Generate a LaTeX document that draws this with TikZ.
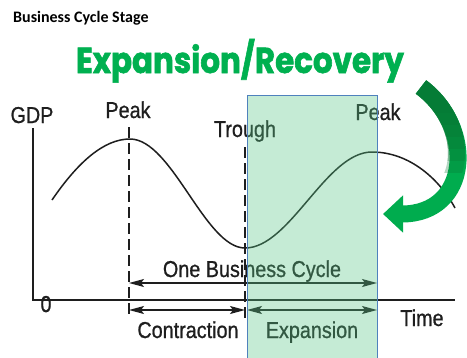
\documentclass[tikz,border=0pt]{standalone}
\usepackage{fontspec}
\setmainfont{Liberation Sans}
\newfontfamily\lblfont[FakeStretch=0.86,FakeBold=0.8]{Liberation Sans}
\newfontfamily\headfont{Carlito}
\newfontfamily\bannerfont[FakeStretch=0.86,FakeBold=1.6]{Poppins}
\usetikzlibrary{arrows.meta}
\definecolor{bannergreen}{RGB}{0,176,80}
\definecolor{arrowgreen}{RGB}{0,172,78}
\definecolor{deepgreen}{RGB}{8,120,52}
\definecolor{boxgreen}{RGB}{89,198,135}
\definecolor{boxedge}{RGB}{79,129,189}
\definecolor{ink}{RGB}{30,30,30}

\begin{document}
\begin{tikzpicture}[x=1pt,y=-1pt,
  lbl/.style={text=ink,font=\lblfont\fontsize{23}{25}\selectfont,inner sep=0pt,anchor=base},
  axis/.style={draw=ink,line width=1.6pt},
  guide/.style={draw=ink,line width=1.5pt,dash pattern=on 11pt off 5pt},
  span/.style={draw=ink,line width=1.3pt,{Stealth[length=15pt,width=8pt,inset=3pt]}-{Stealth[length=15pt,width=8pt,inset=3pt]}},
  bandstroke/.style={line width=17pt}]
\useasboundingbox (0,0) rectangle (467,357);

\node (stage) [anchor=base west,inner sep=0pt,text=black,font=\headfont\bfseries\fontsize{16}{18}\selectfont] at (13,22) {Business Cycle Stage};
\node (banner) [anchor=base,inner sep=0pt,text=bannergreen,font=\bannerfont\bfseries\fontsize{36}{40}\selectfont] at (240,73) {Expansion/Recovery};

\coordinate (ytop) at (33,128);
\coordinate (o) at (33,300);
\coordinate (xend) at (455,300);
\draw[axis] (ytop) -- (o) -- (xend);

\coordinate (start) at (52,200);
\coordinate (pk1) at (130,139);
\coordinate (tr) at (245,248);
\coordinate (pk2) at (372,152);
\coordinate (stop) at (455,208);
\draw[ink,line width=1.5pt] (start) .. controls (78,162) and (104,139) .. (pk1)
  .. controls (172,139) and (205,248) .. (tr)
  .. controls (290,248) and (326,152) .. (pk2)
  .. controls (410,152) and (440,180) .. (stop);

\coordinate (g1a) at (129,127);
\coordinate (g1b) at (129,318);
\coordinate (g2a) at (245,147);
\coordinate (g2b) at (245,318);
\foreach \from/\to in {g1a/g1b,g2a/g2b}
\draw[guide] (\from) -- (\to);

\node (gdp) [lbl] at (32,123) {GDP};
\node (zero) [lbl] at (46,312) {0};
\node (peakA) [lbl] at (128,118) {Peak};
\node (trough) [lbl] at (245,137) {Trough};
\node (peakB) [lbl] at (378,120) {Peak};
\node (cycle) [lbl] at (252,277) {One Business Cycle};
\node (contr) [lbl] at (188,338) {Contraction};
\node (expan) [lbl] at (312,338) {Expansion};
\node (time) [lbl] at (422,326) {Time};

\coordinate (c1) at (129,283);
\coordinate (c2) at (377,283);
\coordinate (s1) at (129,310);
\coordinate (s2) at (245,310);
\coordinate (s3) at (247,310);
\coordinate (s4) at (377,310);
\foreach \from/\to in {c1/c2,s1/s2,s3/s4}
\draw[span] (\from) -- (\to);

\coordinate (bx1) at (247,95);
\coordinate (bx2) at (377,358);
\fill[boxgreen,fill opacity=0.35] (bx1) rectangle (bx2);
\draw[boxedge,line width=1pt] (bx1) rectangle (bx2);

\coordinate (tail) at (421,87);
\coordinate (tip) at (383,214);
\draw[arrowgreen,bandstroke,-{Triangle[length=20pt,width=36pt]}] (tail) .. controls (476,128) and (470,214) .. (tip);
\foreach \k in {1,...,6}{
  \begin{scope}
    \clip (380,60) rectangle (467,100+12*\k);
    \draw[deepgreen,bandstroke,draw opacity=0.3] (tail) .. controls (476,128) and (470,214) .. (tip);
  \end{scope}}
\end{tikzpicture}
\end{document}
